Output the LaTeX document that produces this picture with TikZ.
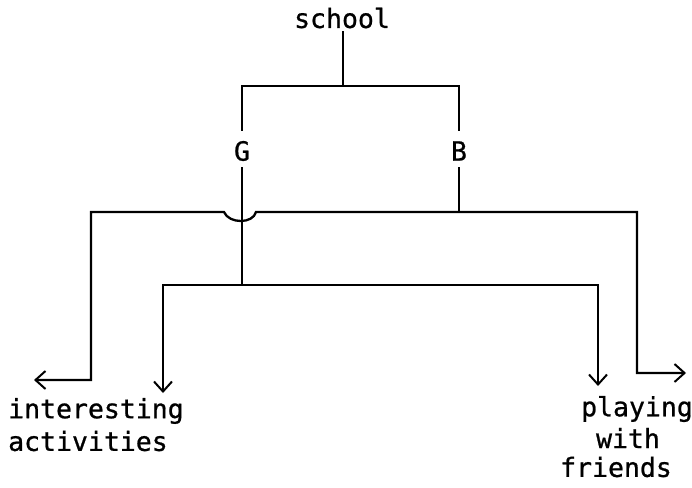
\documentclass[tikz,border=0pt]{standalone}
\usepackage{fontspec}
\newfontfamily\lblfont[FakeBold=0.8]{DejaVu Sans Mono}
\usetikzlibrary{arrows.meta}
\begin{document}
\begin{tikzpicture}[x=1pt,y=-1pt,
  lbl/.style={font=\lblfont\fontsize{26.5}{30}\selectfont, inner sep=0pt},
  wire/.style={line width=2.3pt, line join=miter, line cap=rect},
  arrtip/.style={wire, {Straight Barb[length=10pt,width=18pt,line width=2pt]}-{Straight Barb[length=10pt,width=18pt,line width=2pt]}}]
\useasboundingbox (0,0) rectangle (692,487);
% nodes
\node[lbl] (school) at (342,18) {school};
\node[lbl] (G) at (242,151) {G};
\node[lbl] (B) at (459,151) {B};
\node[lbl, anchor=west] (int) at (8,411) {interesting};
\node[lbl, anchor=west] (act) at (8,441) {activities};
\node[lbl] (play) at (637,409) {playing};
\node[lbl] (with) at (628,438) {with};
\node[lbl] (fri) at (616,467) {friends};
% junction coordinates
\coordinate (top) at (343,86);
\coordinate (gtop) at (242,130);
\coordinate (btop) at (459,130);
\coordinate (gbot) at (242,285);
\coordinate (bbot) at (459,212);
\coordinate (L1) at (91,212);
\coordinate (R1) at (637,212);
\coordinate (L1e) at (34,380);
\coordinate (R1e) at (686,373);
\coordinate (L2) at (163,285);
\coordinate (R2) at (598,285);
\coordinate (L2e) at (163,393);
\coordinate (R2e) at (598,386);
% top tree
\draw[wire] (343,32) -- (top);
\draw[wire] (gtop) |- (top) -| (btop);
\draw[wire] (242,168) -- (gbot);
\draw[wire] (459,168) -- (bbot);
% B branch with hop
\draw[arrtip] (L1e) -- (91,380) -- (L1) -- (224,212) .. controls (229,224) and (253,224) .. (256,212) -- (R1) -- (637,373) -- (R1e);
% G branch
\draw[arrtip] (L2e) -- (L2) -- (R2) -- (R2e);
\end{tikzpicture}
\end{document}
